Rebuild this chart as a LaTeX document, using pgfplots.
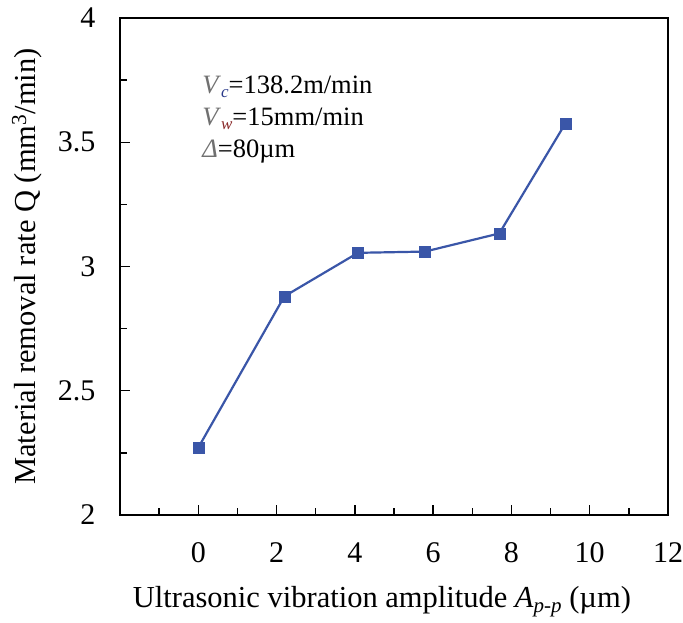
\documentclass[border=0pt]{standalone}
\usepackage{fontspec}
\setmainfont{Liberation Serif}
\usepackage{pgfplots}
\pgfplotsset{compat=1.18}
\definecolor{serblue}{HTML}{3A56A8}
\definecolor{vgray}{HTML}{707070}
\definecolor{subblue}{HTML}{2A3A8A}
\definecolor{subred}{HTML}{8A2A2A}
\begin{document}
\begin{tikzpicture}
\begin{axis}[
  scale only axis,
  width=548pt, height=497pt,
  xmin=-2, xmax=12, ymin=2, ymax=4,
  xtick={0,2,...,12},
  minor xtick={-1,1,...,11},
  ytick={2,2.5,...,4},
  minor ytick={2.25,2.75,...,3.75},
  yticklabels={2,2.5,3,3.5,4},
  tick align=inside,
  xtick pos=bottom, ytick pos=left,
  major tick length=10pt, minor tick length=7pt,
  every tick/.style={black, line width=1.3pt},
  axis line style={line width=1.6pt},
  tick label style={font=\fontsize{30}{36}\selectfont},
  /pgf/number format/assume math mode=true,
  xticklabel style={yshift=-24pt},
  yticklabel style={xshift=-21pt},
  xlabel={Ultrasonic vibration amplitude \textit{A}\raisebox{-0.35ex}{\fontsize{21}{22}\selectfont\textit{p-p}} (µm)},
  ylabel={Material removal rate Q (mm\textsuperscript{3}/min)},
  label style={font=\fontsize{30.5}{36}\selectfont},
  xlabel style={at={(axis description cs:0.478,-0.187)}, anchor=base},
  ylabel style={at={(axis description cs:-0.155,0.5)}, anchor=base},
  clip=false,
]
\addplot[serblue, line width=2.2pt, mark=square*, mark size=5.5pt, mark options={fill=serblue, draw=serblue, line width=0.5pt}]
  coordinates {(0,2.271) (2.2,2.880) (4.08,3.055) (5.79,3.060) (7.69,3.133) (9.38,3.576)};
\node[anchor=base west, font=\fontsize{26.5}{30}\selectfont, inner sep=0pt] at (axis cs:0.1,3.698)
  {\textcolor{vgray}{\textit{V}}\raisebox{-0.4ex}{\fontsize{17}{18}\selectfont\textcolor{subblue}{\textit{c}}}=138.2m/min};
\node[anchor=base west, font=\fontsize{26.5}{30}\selectfont, inner sep=0pt] at (axis cs:0.1,3.569)
  {\textcolor{vgray}{\textit{V}}\raisebox{-0.4ex}{\fontsize{17}{18}\selectfont\textcolor{subred}{\textit{w}}}=15mm/min};
\node[anchor=base west, font=\fontsize{26.5}{30}\selectfont, inner sep=0pt] at (axis cs:0.1,3.44)
  {\textcolor{vgray}{\textit{Δ}}=80µm};
\coordinate (sw) at (rel axis cs:0,0);
\coordinate (ne) at (rel axis cs:1,1);
\end{axis}
\pgfresetboundingbox
\useasboundingbox ([shift={(-120pt,-108pt)}]sw) rectangle ([shift={(15pt,18pt)}]ne);
\end{tikzpicture}
\end{document}
